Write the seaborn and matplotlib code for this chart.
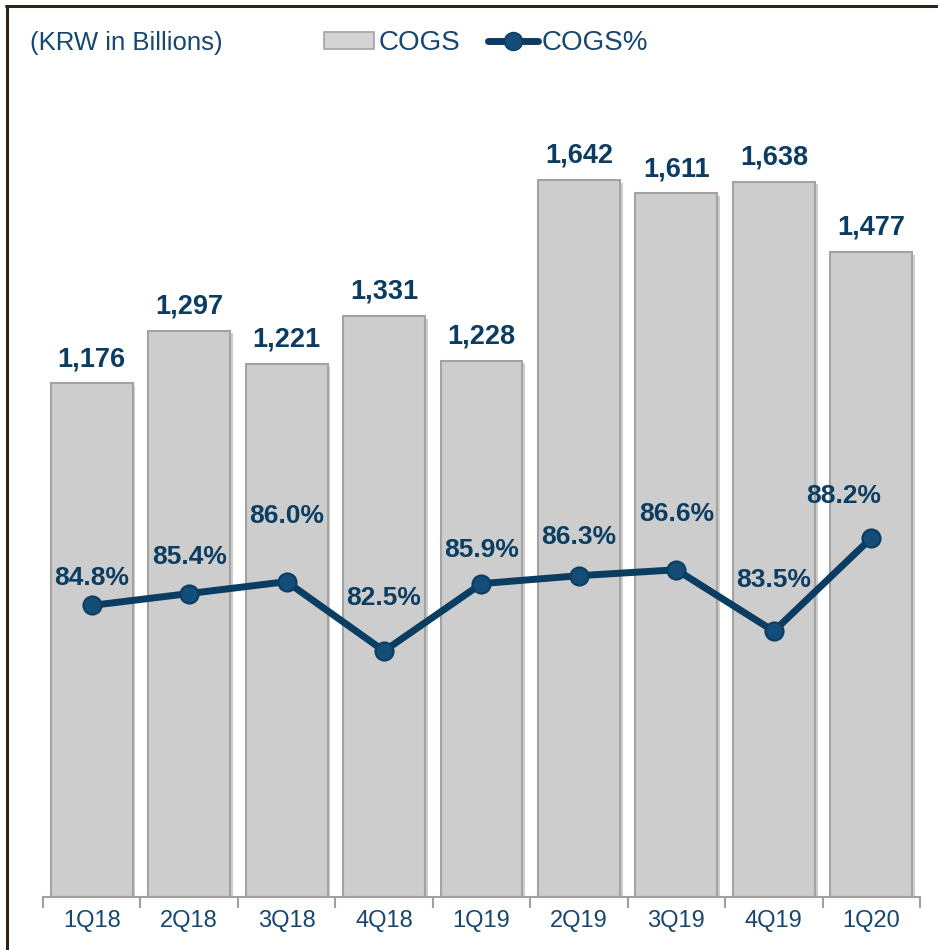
import numpy as np
import pandas as pd
import matplotlib.pyplot as plt
import matplotlib.patheffects as pe
from matplotlib.patches import Patch
from matplotlib.lines import Line2D
import seaborn as sns

quarters = ['1Q18', '2Q18', '3Q18', '4Q18', '1Q19', '2Q19', '3Q19', '4Q19', '1Q20']
cogs = [1176, 1297, 1221, 1331, 1228, 1642, 1611, 1638, 1477]
cogs_pct = [84.8, 85.4, 86.0, 82.5, 85.9, 86.3, 86.6, 83.5, 88.2]

# label nudges (points) for the % labels, as placed in the original slide
pct_dx = [0, 0, 0, 0, 0, 0, 0, 0, -20]
pct_dy = [20, 26, 47, 38, 24, 28, 40, 37, 30]

navy = '#0b3d62'
text_navy = '#17466e'
bar_grey = '#cdcdcd'

df = pd.DataFrame({'quarter': quarters, 'cogs': cogs, 'pct': cogs_pct})

sns.set_style('white')
plt.rcParams['font.family'] = ['Liberation Sans', 'DejaVu Sans']

fig = plt.figure(figsize=(9.38, 9.5), dpi=100)
ax = fig.add_axes([43 / 938, 1 - 897 / 950, (920 - 43) / 938, (897 - 100) / 950])

sns.barplot(data=df, x='quarter', y='cogs', color=bar_grey, width=0.84,
            saturation=1, edgecolor='#a3a3a3', linewidth=1.5, ax=ax)
for p in ax.patches:
    p.set_path_effects([pe.SimplePatchShadow(offset=(2, -2), alpha=0.25), pe.Normal()])

ax.bar_label(ax.containers[0], labels=[f'{v:,}' for v in cogs], padding=8,
             fontsize=19.5, fontweight='bold', color=navy)

ax.set_xlim(-0.5, len(quarters) - 0.5)
ax.set_ylim(0, 1825)
ax.set_xlabel('')
ax.set_ylabel('')
ax.set_yticks([])
for s in ['left', 'right', 'top']:
    ax.spines[s].set_visible(False)
ax.spines['bottom'].set_color('#a0a0a0')
ax.spines['bottom'].set_linewidth(1.5)

ax.set_xticks(np.arange(len(quarters) + 1) - 0.5)
ax.set_xticklabels([])
ax.tick_params(axis='x', which='major', bottom=True, length=8, width=1.5,
               color='#a0a0a0', direction='out')
ax.set_xticks(np.arange(len(quarters)), minor=True)
ax.set_xticklabels(quarters, minor=True, fontsize=17, color=text_navy)
ax.tick_params(axis='x', which='minor', bottom=True, length=0, pad=9)

ax2 = ax.twinx()
sns.lineplot(x=np.arange(len(quarters)), y=cogs_pct, ax=ax2, color=navy, linewidth=5,
             marker='o', markersize=13, markerfacecolor='#134d78', markeredgecolor=navy,
             markeredgewidth=1.5)
ax2.set_ylim(70.09, 110.3)
ax2.set_yticks([])
for s in ['left', 'right', 'top', 'bottom']:
    ax2.spines[s].set_visible(False)

for i, v in enumerate(cogs_pct):
    ax2.annotate(f'{v:.1f}%', (i, v), xytext=(pct_dx[i], pct_dy[i]), textcoords='offset points',
                 ha='center', va='center', fontsize=19, fontweight='bold', color=navy)

fig.text(30 / 938, 1 - 43 / 950, '(KRW in Billions)', fontsize=18.5, color=text_navy,
         ha='left', va='center')

handles = [Patch(facecolor='#d4d4d4', edgecolor='#a3a3a3', linewidth=1.2),
           Line2D([], [], color=navy, linewidth=5, marker='o', markersize=13,
                  markerfacecolor='#134d78', markeredgecolor=navy)]
fig.legend(handles, ['COGS', 'COGS%'], loc='center left', bbox_to_anchor=(324 / 938, 1 - 43 / 950),
           ncol=2, frameon=False, fontsize=20, handlelength=1.8, handletextpad=0.15,
           columnspacing=1.0, borderpad=0, borderaxespad=0, labelcolor=text_navy,
           handleheight=0.55)

# slide frame (top and left edges)
fig.add_artist(Line2D([6 / 938, 1.0], [1 - 6 / 950, 1 - 6 / 950], color='#2b2519', linewidth=2.2,
                      transform=fig.transFigure))
fig.add_artist(Line2D([7 / 938, 7 / 938], [0, 1 - 6 / 950], color='#2b2519', linewidth=2.2,
                      transform=fig.transFigure))

fig.savefig('out.png', dpi=100)
